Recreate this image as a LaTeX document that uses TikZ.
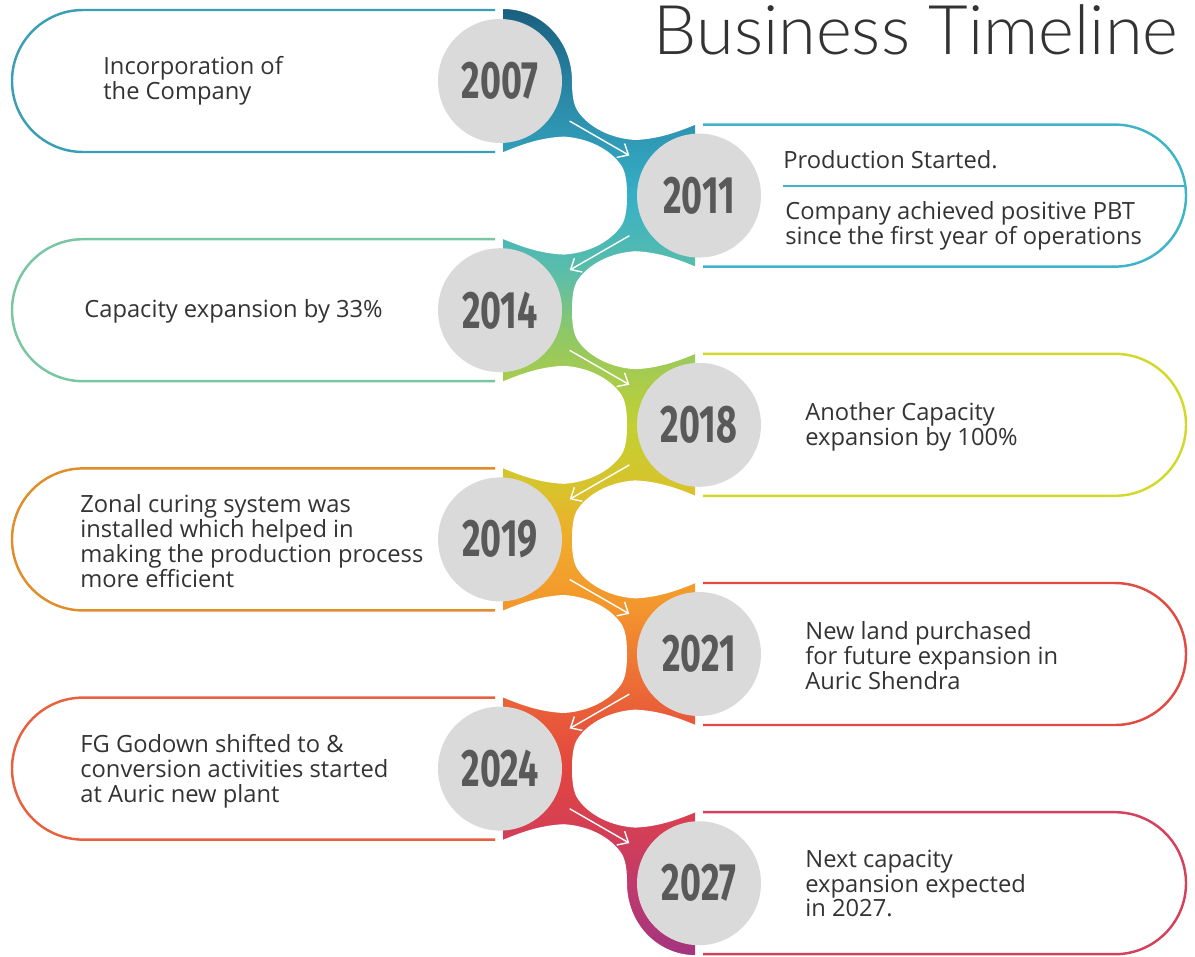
\documentclass[tikz,border=0pt]{standalone}
\usepackage{fontspec}
\setmainfont{Open Sans}
\newfontfamily\yearfont[FakeStretch=0.68]{Fira Sans}
\IfFontExistsTF{Lato Light}
  {\newfontfamily\titlefont{Lato Light}}
  {\newfontfamily\titlefont{Lato}}
\usetikzlibrary{calc,arrows.meta}

\definecolor{sp0}{HTML}{1B5F7F}
\definecolor{sp1}{HTML}{2B8AA9}
\definecolor{sp2}{HTML}{36B0C7}
\definecolor{sp3}{HTML}{5FBFA5}
\definecolor{sp4}{HTML}{8CC76A}
\definecolor{sp5}{HTML}{C2D031}
\definecolor{sp6}{HTML}{D9C22C}
\definecolor{sp7}{HTML}{F0AB2A}
\definecolor{sp8}{HTML}{F3952D}
\definecolor{sp9}{HTML}{EF7B33}
\definecolor{sp10}{HTML}{E85A3A}
\definecolor{sp11}{HTML}{E2453F}
\definecolor{sp12}{HTML}{D43F55}
\definecolor{sp13}{HTML}{BF3A6E}
\definecolor{sp14}{HTML}{A2357F}

\definecolor{box2007}{HTML}{3A9FB6}
\definecolor{box2011}{HTML}{3DB4C9}
\definecolor{box2014}{HTML}{79C6A3}
\definecolor{box2018}{HTML}{D3D92B}
\definecolor{box2019}{HTML}{DF8E2A}
\definecolor{box2021}{HTML}{E24B43}
\definecolor{box2024}{HTML}{E8613F}
\definecolor{box2027}{HTML}{D5405A}
\definecolor{circgrey}{HTML}{DADADA}
\definecolor{yeargrey}{HTML}{595959}
\definecolor{textgrey}{HTML}{333333}

\pgfdeclareverticalshading{spine}{100bp}{color(0bp)=(sp14); color(25bp)=(sp14);
  color(28.5bp)=(sp13); color(31.7bp)=(sp12); color(34.8bp)=(sp11);
  color(37.5bp)=(sp10); color(40.9bp)=(sp9); color(43.3bp)=(sp8);
  color(47bp)=(sp7); color(49.6bp)=(sp6); color(53bp)=(sp5);
  color(58.1bp)=(sp4); color(60.7bp)=(sp3); color(65.1bp)=(sp2);
  color(70.2bp)=(sp1); color(75bp)=(sp0); color(100bp)=(sp0)}

\tikzset{
  yearcirc/.style={circle, fill=circgrey, minimum size=2.48cm, inner sep=0pt,
    text=yeargrey, font=\yearfont\bfseries\fontsize{30}{30}\selectfont},
  eventtext/.style={anchor=west, align=left, inner sep=0pt, text=textgrey,
    font=\fontsize{13.5}{14.17}\selectfont},
  boxline/.style={line width=1.4pt},
  neckarrow/.style={white, line width=0.8pt,
    -{Straight Barb[length=1.8mm,width=3.2mm]}},
  boxframe/.pic={
    \draw[boxline] (495,-71) -- (83,-71)
      .. controls (43.8,-71) and (12,-39.2) .. (12,0)
      .. controls (12,39.2) and (43.8,71) .. (83,71) -- (495,71);},
  spinebay/.pic={
    \fill[white] (72,0) .. controls (72,-12) and (73,-22) .. (77,-29)
      .. controls (85,-42) and (105,-57) .. (135,-59)
      .. controls (160,-58) and (180,-50) .. (197,-43) -- (240,-43)
      -- (240,43) -- (197,43) .. controls (180,50) and (160,58) .. (135,59)
      .. controls (105,57) and (85,42) .. (77,29)
      .. controls (73,22) and (72,12) .. (72,0) -- cycle;},
  topbay/.pic={
    \fill[white] (3,-100) -- (3,-72) .. controls (42,-72) and (72,-40) .. (72,0)
      .. controls (72,12) and (73,22) .. (77,29)
      .. controls (85,42) and (105,57) .. (135,59)
      .. controls (160,58) and (180,50) .. (197,43) -- (240,43)
      -- (240,-100) -- cycle;}
}

\begin{document}
\begin{tikzpicture}[x=0.02cm, y=-0.02cm]
    \useasboundingbox (0,0) rectangle (1195,956);

    \shade[shading=spine] (503,9) rectangle (695,956);
    \pic at (500,81) {topbay};
    \pic[xscale=-1] at (699,195.6) {spinebay};
    \pic at (500,310.2) {spinebay};
    \pic[xscale=-1] at (699,424.8) {spinebay};
    \pic at (500,539.4) {spinebay};
    \pic[xscale=-1] at (699,654) {spinebay};
    \pic at (500,768.6) {spinebay};
    \pic[xscale=-1,yscale=-1] at (699,883.2) {topbay};

    \node[yearcirc] (y2007) at (500,81) {2007};
    \node[yearcirc] (y2011) at (699,195.6) {2011};
    \node[yearcirc] (y2014) at (500,310.2) {2014};
    \node[yearcirc] (y2018) at (699,424.8) {2018};
    \node[yearcirc] (y2019) at (500,539.4) {2019};
    \node[yearcirc] (y2021) at (699,654) {2021};
    \node[yearcirc] (y2024) at (500,768.6) {2024};
    \node[yearcirc] (y2027) at (699,883.2) {2027};

    \draw[neckarrow] ($(y2007)!0.35!(y2011)$) -- ($(y2007)!0.65!(y2011)$);
    \draw[neckarrow] ($(y2011)!0.35!(y2014)$) -- ($(y2011)!0.65!(y2014)$);
    \draw[neckarrow] ($(y2014)!0.35!(y2018)$) -- ($(y2014)!0.65!(y2018)$);
    \draw[neckarrow] ($(y2018)!0.35!(y2019)$) -- ($(y2018)!0.65!(y2019)$);
    \draw[neckarrow] ($(y2019)!0.35!(y2021)$) -- ($(y2019)!0.65!(y2021)$);
    \draw[neckarrow] ($(y2021)!0.35!(y2024)$) -- ($(y2021)!0.65!(y2024)$);
    \draw[neckarrow] ($(y2024)!0.35!(y2027)$) -- ($(y2024)!0.65!(y2027)$);

    \pic[color=box2007] at (0,81) {boxframe};
    \pic[color=box2011,xscale=-1] at (1198,195.6) {boxframe};
    \pic[color=box2014] at (0,310.2) {boxframe};
    \pic[color=box2018,xscale=-1] at (1198,424.8) {boxframe};
    \pic[color=box2019] at (0,539.4) {boxframe};
    \pic[color=box2021,xscale=-1] at (1198,654) {boxframe};
    \pic[color=box2024] at (0,768.6) {boxframe};
    \pic[color=box2027,xscale=-1] at (1198,883.2) {boxframe};
    \draw[box2011, line width=0.85pt] (783,186) -- (1185,186);

    \node[eventtext] (t2007) at (103,80.5) {Incorporation of\\the Company};
    \node[eventtext] (t2011a) at (783,159.5) {Production Started.};
    \node[eventtext] (t2011b) at (785,225.5)
        {Company achieved positive PBT\\since the first year of operations};
    \node[eventtext] (t2014) at (84,311) {Capacity expansion by 33\%};
    \node[eventtext] (t2018) at (805,426.5) {Another Capacity\\expansion by 100\%};
    \node[eventtext] (t2019) at (80,541) {Zonal curing system was\\installed which helped in\\making the production process\\more efficient};
    \node[eventtext] (t2021) at (805,655.5) {New land purchased\\for future expansion in\\Auric Shendra};
    \node[eventtext] (t2024) at (80,771) {FG Godown shifted to \&\\conversion activities started\\at Auric new plant};
    \node[eventtext] (t2027) at (805,883.5) {Next capacity\\expansion expected\\in 2027.};

    \node[anchor=base, text=textgrey, font=\titlefont\fontsize{39}{39}\selectfont]
        (title) at (916,55) {Business Timeline};
\end{tikzpicture}
\end{document}
